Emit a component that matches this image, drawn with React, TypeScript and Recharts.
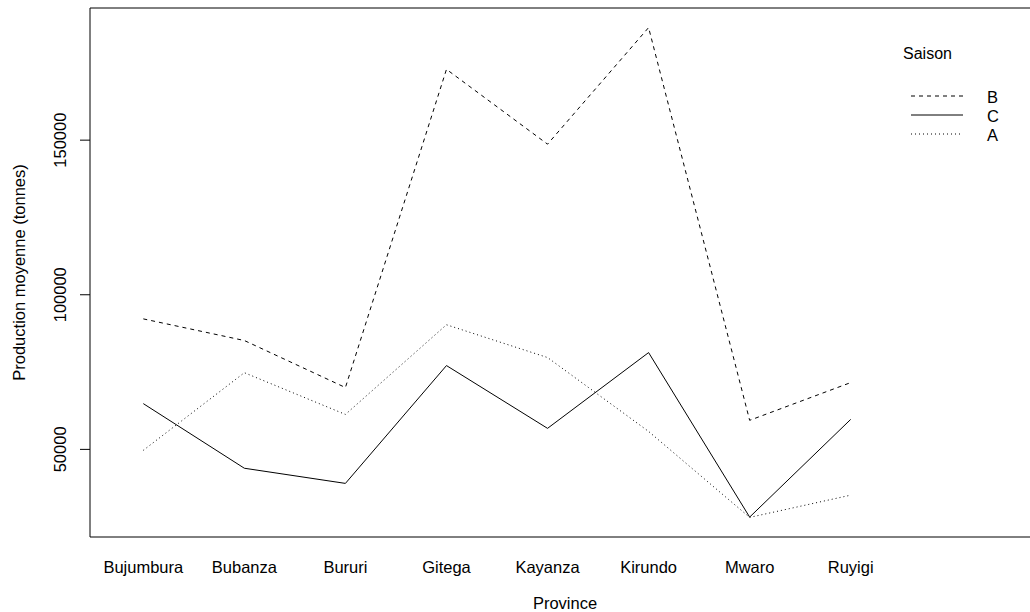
import React from "react";
import {
  LineChart,
  Line,
  XAxis,
  YAxis,
  Legend,
  ReferenceLine,
} from "recharts";

// Mean production per province, by season
const provinces = [
  "Bujumbura",
  "Bubanza",
  "Bururi",
  "Gitega",
  "Kayanza",
  "Kirundo",
  "Mwaro",
  "Ruyigi",
];
const saisonB = [92200, 85200, 70000, 172900, 148700, 186400, 59400, 71600];
const saisonC = [64800, 43900, 39000, 77100, 56800, 81300, 28100, 59700];
const saisonA = [49700, 74800, 61300, 90300, 79700, 55800, 28000, 35200];
const yTicks = [50000, 100000, 150000];

const FONT = "'Liberation Sans', Arial, sans-serif";
const FS = 16.5;

const SERIES = [
  { key: "B", name: "B", dash: "4 4" },
  { key: "C", name: "C", dash: undefined },
  { key: "A", name: "A", dash: "1 3" },
];

const data = provinces.map((p, i) => ({
  idx: i + 1,
  name: p,
  B: saisonB[i],
  C: saisonC[i],
  A: saisonA[i],
}));

const all = [...saisonA, ...saisonB, ...saisonC];
const lo = Math.min(...all);
const hi = Math.max(...all);
const pad = (hi - lo) * 0.04;
const yDomain = [lo - pad, hi + pad];

function XTick({ x, y, payload }: any) {
  return (
    <text
      x={x}
      y={y + 22}
      textAnchor="middle"
      dominantBaseline="central"
      fontFamily={FONT}
      fontSize={FS}
      fill="#000"
    >
      {provinces[payload.value - 1]}
    </text>
  );
}

function YTick({ y, payload }: any) {
  return (
    <text
      x={0}
      y={0}
      transform={`translate(60, ${y}) rotate(-90)`}
      textAnchor="middle"
      dominantBaseline="central"
      fontFamily={FONT}
      fontSize={FS}
      fill="#000"
    >
      {payload.value}
    </text>
  );
}

function SaisonLegend() {
  return (
    <svg width={130} height={110} style={{ display: "block" }}>
      <text
        x={8}
        y={13}
        dominantBaseline="central"
        fontFamily={FONT}
        fontSize={16}
        fill="#000"
      >
        Saison
      </text>
      {SERIES.map((s, i) => (
        <g key={s.key}>
          <line
            x1={16}
            x2={68}
            y1={56 + i * 19}
            y2={56 + i * 19}
            stroke="#000"
            strokeWidth={1}
            strokeDasharray={s.dash}
          />
          <text
            x={92}
            y={57 + i * 19}
            dominantBaseline="central"
            fontFamily={FONT}
            fontSize={FS}
            fill="#000"
          >
            {s.name}
          </text>
        </g>
      ))}
    </svg>
  );
}

export default function App() {
  return (
    <div
      style={{
        position: "absolute",
        left: 0,
        top: 0,
        width: 1030,
        height: 612,
        overflow: "hidden",
        background: "#fff",
      }}
    >
      <LineChart
        width={1045}
        height={612}
        data={data}
        margin={{ top: 8, right: 5, bottom: 0, left: 0 }}
      >
        <XAxis
          dataKey="idx"
          type="number"
          domain={[0.4726, 9.873]}
          allowDataOverflow
          ticks={data.map((d) => d.idx)}
          interval={0}
          height={75}
          tick={<XTick />}
          tickLine={false}
          axisLine={{ stroke: "#000", strokeWidth: 1 }}
          label={{
            value: "Province",
            position: "insideBottom",
            offset: 3,
            fontFamily: FONT,
            fontSize: FS,
            fill: "#000",
          }}
        />
        <YAxis
          type="number"
          domain={yDomain}
          allowDataOverflow
          ticks={yTicks}
          width={90}
          tickSize={10}
          tick={<YTick />}
          tickLine={{ stroke: "#000", strokeWidth: 1 }}
          axisLine={{ stroke: "#000", strokeWidth: 1 }}
          label={{
            value: "Production moyenne (tonnes)",
            angle: -90,
            position: "insideLeft",
            offset: 19,
            style: { textAnchor: "middle" },
            fontFamily: FONT,
            fontSize: FS,
            fill: "#000",
          }}
        />
        {/* top edge of the plot box */}
        <ReferenceLine y={yDomain[1]} stroke="#000" strokeWidth={1} ifOverflow="extendDomain" />
        <Legend
          layout="horizontal"
          verticalAlign="middle"
          align="center"
          wrapperStyle={{ position: "absolute", left: 895, top: 40, width: 130 }}
          content={() => <SaisonLegend />}
        />
        {SERIES.map((s) => (
          <Line
            key={s.key}
            dataKey={s.key}
            name={s.name}
            type="linear"
            stroke="#000"
            strokeWidth={1}
            strokeDasharray={s.dash}
            dot={false}
            activeDot={false}
            isAnimationActive={false}
          />
        ))}
      </LineChart>
    </div>
  );
}
